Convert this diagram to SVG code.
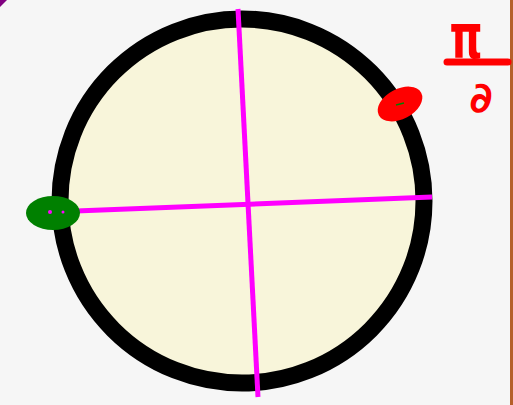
<svg xmlns="http://www.w3.org/2000/svg" width="513" height="405" viewBox="0 0 513 405">
<style>
.axis{stroke:#ff00ff;stroke-width:5;stroke-linecap:butt;fill:none}
.lbl{fill:#ff0000;font-family:"DejaVu Sans",sans-serif;font-weight:bold}
</style>
<rect x="0" y="0" width="513" height="405" fill="#f6f6f6"/>
<polygon points="0,0 7,0 0,7" fill="#800080"/>
<rect x="510" y="0" width="3" height="405" fill="#b5602a"/>
<g id="circle">
<circle cx="242" cy="201" r="182" fill="#f8f5da" stroke="#000" stroke-width="17"/>
</g>
<g id="connectors">
<line class="axis" x1="238" y1="9" x2="258" y2="397"/>
<line class="axis" x1="50" y1="212" x2="432" y2="197"/>
</g>
<g id="green-point">
<ellipse cx="53" cy="213" rx="27" ry="17" fill="#008000"/>
<circle cx="50" cy="212" r="2" fill="#ff00ff"/>
<circle cx="63" cy="212" r="1.5" fill="#ff00ff"/>
</g>
<g id="red-point">
<ellipse cx="400" cy="104" rx="24" ry="15" fill="#ff0000" transform="rotate(-28 400 104)"/>
<line x1="396" y1="105" x2="404" y2="103" stroke="#008000" stroke-width="1.5"/>
</g>
<g id="label">
<text class="lbl" font-size="42" text-anchor="middle" transform="translate(466 58) scale(1 1.5)">π</text>
<line x1="447" y1="62" x2="508" y2="62" stroke="#ff0000" stroke-width="7" stroke-linecap="round"/>
<text class="lbl" x="481" y="112" font-size="42" text-anchor="middle">∂</text>
</g>
</svg>
